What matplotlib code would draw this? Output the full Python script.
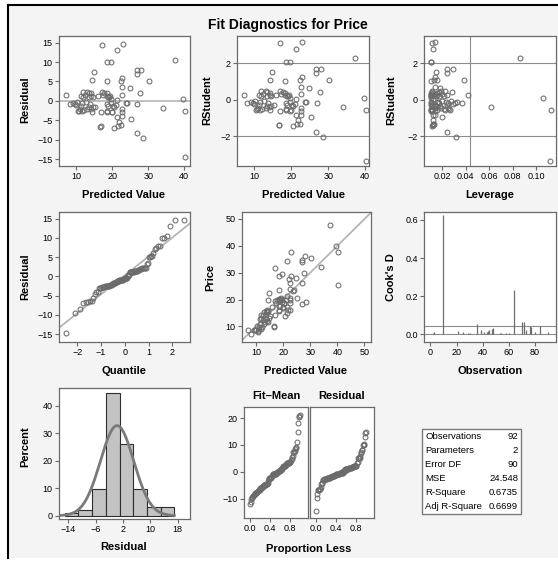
import numpy as np
import matplotlib
matplotlib.use("Agg")
import matplotlib.pyplot as plt
from matplotlib.patches import Rectangle
from matplotlib.lines import Line2D
from statistics import NormalDist

plt.rcParams['font.family'] = ['Liberation Sans', 'DejaVu Sans']

# Fitted values and residuals, in observation order (1..92)
predicted = [12.5, 18.4, 16.6, 11.3, 19.7, 13.6, 9.6, 20.2, 14.2, 40.2,
             12.1, 17.3, 10.8, 22.6, 13.1, 18.6, 7.2, 14.7, 19.3, 11.9,
             14.9, 20.0, 12.6, 17.8, 22.4, 10.3, 23.8, 13.7, 14.4, 21.8,
             11.5, 18.8, 14.1, 8.2, 21.0, 17.1, 13.1, 15.3, 19.6, 11.1,
             22.8, 21.3, 20.6, 40.3, 18.6, 12.0, 26.8, 26.8, 18.4, 9.9,
             14.6, 24.8, 22.6, 25.3, 11.7, 19.2, 13.4, 34.1, 16.0, 22.3,
             10.6, 18.6, 14.2, 37.3, 9.2, 39.6, 17.0, 13.6, 20.4, 28.6,
             11.4, 22.9, 30.2, 18.9, 14.4, 21.3, 26.8, 24.1, 17.1, 16.8,
             22.6, 19.8, 27.0, 28.1, 18.6, 22.6, 19.6, 27.8, 21.3, 21.5,
             18.4, 22.6]
residual = [1.6, 5.1, -6.7, -1.4, -0.6, 2.1, -0.8, -1.3, 1.3, -14.6,
            -2.4, 1.6, -2.5, 1.5, -2.1, -0.9, 1.4, -1.7, 1.2, 2.3,
            7.4, -2.8, -0.3, 2.1, -6.3, -0.3, -0.5, -0.9, 5.3, -5.5,
            -0.6, -1.3, -2.0, -0.9, -1.0, 14.5, 2.3, -1.5, 10.0, -2.2,
            6.0, -4.1, -6.9, -2.5, 10.0, 1.1, 7.0, 8.0, 1.9, -1.1,
            1.1, 3.2, -4.0, -4.6, -2.6, 1.1, -1.6, -1.8, 1.2, 5.2,
            -2.6, -2.5, 1.9, 10.4, -0.5, 0.4, -2.9, 1.1, -1.6, -9.6,
            1.3, 14.7, 5.1, 1.1, -2.8, 13.0, -8.4, -0.5, 2.3, -6.6,
            -2.9, -2.9, -0.9, 8.0, -2.8, 3.5, 0.4, 2.0, 0.2, -6.4,
            1.3, -2.2]
hist_edges = [-15, -11, -7, -3, 1, 5, 9, 13, 17]
stat_names = ["Observations", "Parameters", "Error DF", "MSE", "R-Square", "Adj R-Square"]
stat_values = ["92", "2", "90", "24.548", "0.6735", "0.6699"]

# ---- regression diagnostics ----
pred = np.array(predicted)
res = np.array(residual)
price = pred + res
n = len(pred)
p = 2
sse = np.sum(res ** 2)
s2 = sse / (n - p)
dev = pred - pred.mean()
lev = 1.0 / n + dev ** 2 / np.sum(dev ** 2)
s2_i = (sse - res ** 2 / (1 - lev)) / (n - p - 1)
rstud = res / np.sqrt(s2_i * (1 - lev))
cooks = res ** 2 * lev / (p * s2 * (1 - lev) ** 2)
obs = np.arange(1, n + 1)

nd = NormalDist()
sorted_res = np.sort(res)
quant = np.array([nd.inv_cdf((i - 0.375) / (n + 0.25)) for i in obs])
prop = (obs - 0.5) / n
fit_mean = np.sort(pred - price.mean())

# ---- figure ----
W, H = 558, 564
fig = plt.figure(figsize=(W / 100, H / 100), dpi=100, facecolor='white')
fig.add_artist(Rectangle((8 / W, 1 - 558 / H), (558 - 8) / W, (558 - 5) / H,
                         transform=fig.transFigure, facecolor='#f4f4f4',
                         edgecolor='none', zorder=-10))
fig.add_artist(Line2D([8 / W, 8 / W], [1 - 558 / H, 1 - 5 / H], color='black', lw=1.5))
fig.add_artist(Line2D([8 / W, 1], [1 - 5 / H, 1 - 5 / H], color='black', lw=1.5))

FRAME = '#6a6a6a'
MARK = '#6b6b6b'
REF = '#8c8c8c'
LIGHT = '#b5b5b5'
TICK_FS = 6.5
LAB_FS = 8


def axes_px(l, t, r, b):
    ax = fig.add_axes([l / W, 1 - b / H, (r - l) / W, (b - t) / H])
    ax.set_facecolor('white')
    for s in ax.spines.values():
        s.set_color(FRAME)
        s.set_linewidth(0.9)
    ax.tick_params(direction='out', length=3, width=0.8, color=FRAME,
                   labelsize=TICK_FS, pad=1.5)
    return ax


def ftext(x, y, s, rot=0, size=LAB_FS):
    fig.text(x / W, 1 - y / H, s, ha='center', va='center', rotation=rot,
             fontsize=size, fontweight='bold')


def circles(ax, x, y):
    ax.plot(x, y, 'o', ms=3.5, mfc='none', mec=MARK, mew=0.75, ls='none', zorder=3)


ftext(288, 25, "Fit Diagnostics for Price", size=10)

# Residual vs predicted
ax = axes_px(59, 36, 190, 166)
ax.axhline(0, color=LIGHT, lw=1.2, zorder=1)
circles(ax, pred, res)
ax.set_xlim(5.2, 41.6)
ax.set_ylim(-16.8, 16.7)
ax.set_xticks([10, 20, 30, 40])
ax.set_yticks([-15, -10, -5, 0, 5, 10, 15])
ftext(25, 100, "Residual", rot=90)
ftext(124, 195, "Predicted Value")

# RStudent vs predicted
ax = axes_px(237, 36, 369, 166)
for yv in (-2, 2):
    ax.axhline(yv, color=REF, lw=0.8, zorder=1)
circles(ax, pred, rstud)
ax.set_xlim(5.4, 41.0)
ax.set_ylim(-3.62, 3.49)
ax.set_xticks([10, 20, 30, 40])
ax.set_yticks([-2, 0, 2])
ftext(207, 100, "RStudent", rot=90)
ftext(303, 195, "Predicted Value")

# RStudent vs leverage
ax = axes_px(424, 36, 556, 166)
for yv in (-2, 2):
    ax.axhline(yv, color=REF, lw=0.8, zorder=1)
ax.axvline(2 * p / n, color=REF, lw=0.8, zorder=1)
circles(ax, lev, rstud)
ax.set_xlim(0.0047, 0.1168)
ax.set_ylim(-3.62, 3.49)
ax.set_xticks([0.02, 0.04, 0.06, 0.08, 0.10])
ax.set_xticklabels(['0.02', '0.04', '0.06', '0.08', '0.10'])
ax.set_yticks([-2, 0, 2])
ftext(391, 100, "RStudent", rot=90)
ftext(490, 195, "Leverage")

# Normal quantile plot of residuals
ax = axes_px(59, 212, 190, 342)
xl = np.array([-2.77, 2.74])
ax.plot(xl, res.mean() + np.sqrt(s2) * xl, color=LIGHT, lw=1.3, zorder=1)
circles(ax, quant, sorted_res)
ax.set_xlim(-2.77, 2.74)
ax.set_ylim(-17.0, 16.7)
ax.set_xticks([-2, -1, 0, 1, 2])
ax.set_yticks([-15, -10, -5, 0, 5, 10, 15])
ftext(25, 277, "Residual", rot=90)
ftext(124, 371, "Quantile")

# Observed vs predicted
ax = axes_px(242, 212, 371, 342)
ax.plot([4.5, 52.6], [4.5, 52.6], color=LIGHT, lw=1.3, zorder=1)
circles(ax, pred, price)
ax.set_xlim(4.85, 52.4)
ax.set_ylim(4.2, 52.6)
ax.set_xticks([10, 20, 30, 40, 50])
ax.set_yticks([10, 20, 30, 40, 50])
ftext(210, 277, "Price", rot=90)
ftext(306, 371, "Predicted Value")

# Cook's D by observation
ax = axes_px(424, 212, 556, 342)
ax.axhline(0, color=REF, lw=0.8, zorder=1)
ax.axhline(4 / n, color=REF, lw=0.8, zorder=1)
ax.vlines(obs, 0, cooks, color='#6e6e6e', lw=0.9, zorder=2)
ax.set_xlim(-4.9, 96.2)
ax.set_ylim(-0.04, 0.641)
ax.set_xticks([0, 20, 40, 60, 80])
ax.set_yticks([0.0, 0.2, 0.4, 0.6])
ax.set_yticklabels(['0.0', '0.2', '0.4', '0.6'])
ftext(391, 277, "Cook's D", rot=90)
ftext(490, 371, "Observation")

# Histogram of residuals with normal density
ax = axes_px(59, 388, 190, 519)
counts, edges = np.histogram(res, bins=hist_edges)
pct = 100.0 * counts / n
ax.bar(edges[:-1], pct, width=np.diff(edges), align='edge', color='#c3c3c3',
       edgecolor='#2e2e2e', lw=0.8, zorder=2)
xs = np.linspace(-16, 17, 300)
sd = res.std(ddof=1)
dens = np.array([NormalDist(res.mean(), sd).pdf(v) for v in xs])
ax.plot(xs, 100 * 4 * dens, color='#7a7a7a', lw=2.0, zorder=3)
ax.set_xlim(-16.7, 21.6)
ax.set_ylim(-1.2, 46.4)
ax.set_xticks([-14, -6, 2, 10, 18])
ax.set_yticks([0, 10, 20, 30, 40])
ftext(25, 447, "Percent", rot=90)
ftext(124, 547, "Residual")

# Residual-fit spread plot
ax1 = axes_px(244, 407, 308, 518)
ax2 = axes_px(310, 407, 374, 518)
circles(ax1, prop, fit_mean)
circles(ax2, prop, sorted_res)
for a in (ax1, ax2):
    a.set_xlim(-0.12, 1.16)
    a.set_ylim(-17.2, 24.1)
    a.set_xticks([0.0, 0.4, 0.8])
    a.set_xticklabels(['0.0', '0.4', '0.8'])
ax1.set_yticks([-10, 0, 10, 20])
ax2.set_yticks([])
ftext(276, 396, "Fit–Mean")
ftext(342, 396, "Residual")
ftext(309, 549, "Proportion Less")

# Fit statistics table
tl, tt, tr, tb = 422, 429, 521, 514
fig.add_artist(Rectangle((tl / W, 1 - tb / H), (tr - tl) / W, (tb - tt) / H,
                         transform=fig.transFigure, facecolor='white',
                         edgecolor='#7a7a7a', lw=1.0))
row_h = (tb - tt) / len(stat_names)
for i, (nm, val) in enumerate(zip(stat_names, stat_values)):
    y = tt + row_h * (i + 0.5)
    fig.text((tl + 3) / W, 1 - y / H, nm, ha='left', va='center', fontsize=6.8)
    fig.text((tr - 3) / W, 1 - y / H, val, ha='right', va='center', fontsize=6.8)

fig.savefig("out.png", dpi=100, facecolor=fig.get_facecolor())
